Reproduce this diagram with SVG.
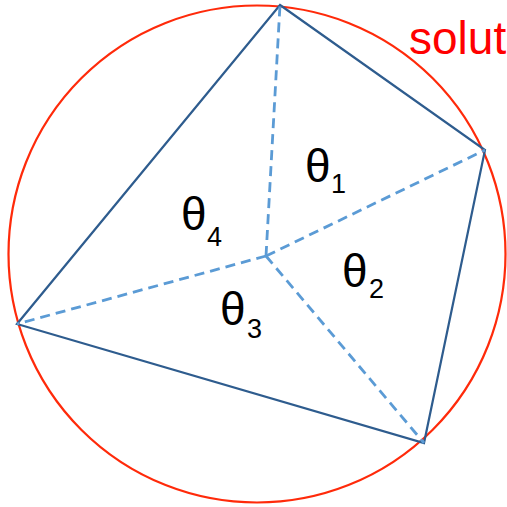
<svg xmlns="http://www.w3.org/2000/svg" width="507" height="507" viewBox="0 0 507 507">
<style>
.circ{fill:none;stroke:#ff2a0a;stroke-width:2.2}
.edge{fill:none;stroke:#2e5c8e;stroke-width:2.2}
.dash{fill:none;stroke:#5b9bd5;stroke-width:2.8;stroke-dasharray:10 6}
.th{font-family:"Liberation Sans",Arial,sans-serif;font-size:46px;fill:#000}
.sub{font-family:"Liberation Sans",Arial,sans-serif;font-size:27px;fill:#000}
.lbl{font-family:"Liberation Sans",Arial,sans-serif;font-size:46px;fill:#ff0000}
</style>
<rect width="507" height="507" fill="#fff"/>
<g id="circle"><circle class="circ" cx="257" cy="254" r="248.5"/></g>
<g id="connectors">
<polygon class="edge" points="280,5 485,150 424,443 17,324"/>
<line class="dash" x1="266" y1="256" x2="280" y2="5"/>
<line class="dash" x1="266" y1="256" x2="485" y2="150"/>
<line class="dash" x1="266" y1="256" x2="424" y2="443"/>
<line class="dash" x1="266" y1="256" x2="17" y2="324"/>
</g>
<g id="theta1"><text class="th" x="305" y="182">θ</text><text class="sub" x="331" y="193">1</text></g>
<g id="theta2"><text class="th" x="342" y="287">θ</text><text class="sub" x="369" y="298">2</text></g>
<g id="theta3"><text class="th" x="220" y="325">θ</text><text class="sub" x="247" y="338">3</text></g>
<g id="theta4"><text class="th" x="181" y="230">θ</text><text class="sub" x="207" y="246">4</text></g>
<g id="label"><text class="lbl" x="409" y="54">solut</text></g>
</svg>
